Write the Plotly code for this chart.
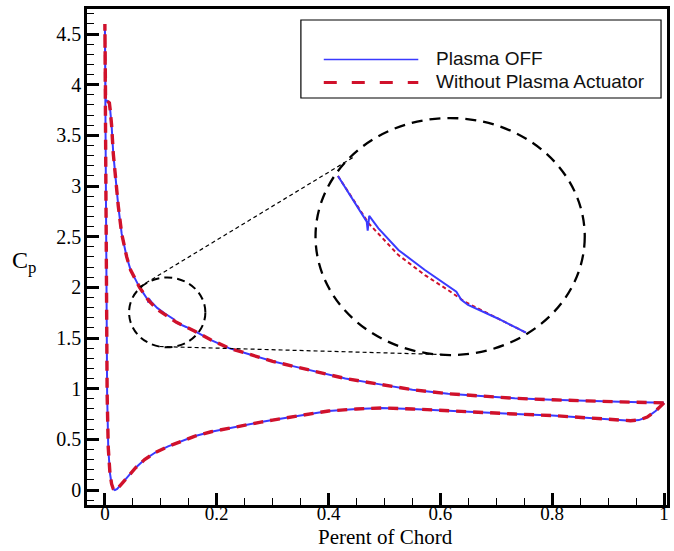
import plotly.graph_objects as go

# ---------------- data ----------------
# lower surface, trailing edge -> leading edge (shared by both cases)
lower_x = [1.0, 0.985, 0.97, 0.955, 0.94, 0.90, 0.851, 0.80, 0.733, 0.70, 0.614, 0.55,
           0.495, 0.45, 0.40, 0.377, 0.338, 0.30, 0.279, 0.25, 0.219, 0.19, 0.16, 0.135,
           0.113, 0.09, 0.071, 0.055, 0.041, 0.03, 0.022, 0.018, 0.015, 0.012, 0.009,
           0.006, 0.004, 0.003, 0.002, 0.001, 0.0]
lower_cp = [0.86, 0.78, 0.72, 0.69, 0.684, 0.70, 0.72, 0.735, 0.75, 0.76, 0.78, 0.80,
            0.81, 0.80, 0.78, 0.76, 0.73, 0.69, 0.67, 0.64, 0.61, 0.575, 0.53, 0.48,
            0.43, 0.37, 0.30, 0.22, 0.13, 0.06, 0.01, 0.0, 0.01, 0.06, 0.17,
            0.42, 0.95, 1.9, 3.0, 4.0, 4.6]

# upper surface, leading edge -> trailing edge, "Without Plasma Actuator"
base_upper_x = [0.0012, 0.004, 0.008, 0.0095, 0.012, 0.015, 0.019, 0.024, 0.030, 0.039,
                0.046, 0.054, 0.062, 0.068, 0.073, 0.078, 0.0935, 0.1073, 0.1194, 0.1281,
                0.1453, 0.160, 0.19, 0.222, 0.258, 0.30, 0.338, 0.377, 0.43, 0.495, 0.55,
                0.614, 0.68, 0.733, 0.80, 0.851, 0.92, 1.0]
base_upper_cp = [3.85, 3.84, 3.82, 3.75, 3.60, 3.32, 3.06, 2.80, 2.53, 2.30,
                 2.17, 2.08, 2.00, 1.952, 1.911, 1.870, 1.783, 1.728, 1.687, 1.655,
                 1.609, 1.570, 1.48, 1.40, 1.34, 1.27, 1.22, 1.17, 1.10, 1.04, 0.99,
                 0.95, 0.925, 0.905, 0.89, 0.88, 0.87, 0.86]

# upper surface, "Plasma OFF"
off_upper_x = [0.0012, 0.004, 0.008, 0.0095, 0.012, 0.015, 0.019, 0.024, 0.030, 0.039,
               0.046, 0.054, 0.062, 0.0676, 0.0728, 0.0770, 0.0775, 0.0783, 0.0831, 0.0935,
               0.1073, 0.1211, 0.1237, 0.1263, 0.1298, 0.1453, 0.160, 0.19, 0.222, 0.258,
               0.30, 0.338, 0.377, 0.43, 0.495, 0.55, 0.614, 0.68, 0.733, 0.80, 0.851,
               0.92, 1.0]
off_upper_cp = [3.85, 3.84, 3.82, 3.75, 3.60, 3.32, 3.06, 2.80, 2.53, 2.30,
                2.17, 2.08, 2.00, 1.9525, 1.911, 1.8746, 1.850, 1.8905, 1.8564, 1.797,
                1.742, 1.692, 1.6825, 1.660, 1.646, 1.609, 1.570, 1.48, 1.40, 1.34,
                1.27, 1.22, 1.17, 1.10, 1.04, 0.99, 0.95, 0.925, 0.905, 0.89, 0.88,
                0.87, 0.86]

series_names = ["Plasma OFF", "Without Plasma Actuator"]
zoom_window = (0.062, 0.160)   # chord interval magnified in the inset

BLUE = "#3a3aff"
RED = "#d0112b"
SERIF = "Liberation Serif"
SANS = "Liberation Sans"

off_x = lower_x + off_upper_x
off_cp = lower_cp + off_upper_cp
base_x = lower_x + base_upper_x
base_cp = lower_cp + base_upper_cp


def window(xs, ys):
    pts = [(a, b) for a, b in zip(xs, ys) if zoom_window[0] <= a <= zoom_window[1]]
    return [p[0] for p in pts], [p[1] for p in pts]


fig = go.Figure()
fig.add_trace(go.Scatter(x=off_x, y=off_cp, mode="lines", name=series_names[0],
                         line=dict(color=BLUE, width=2), showlegend=False))
fig.add_trace(go.Scatter(x=base_x, y=base_cp, mode="lines", name=series_names[1],
                         line=dict(color=RED, width=3.4, dash="10px,7px"), showlegend=False))

# inset (magnified) curves on overlay axes
bx, by = window(base_upper_x, base_upper_cp)
ox, oy = window(off_upper_x, off_upper_cp)
fig.add_trace(go.Scatter(x=bx, y=by, mode="lines", xaxis="x2", yaxis="y2", showlegend=False,
                         line=dict(color=RED, width=2, dash="4px,3px")))
fig.add_trace(go.Scatter(x=ox, y=oy, mode="lines", xaxis="x2", yaxis="y2", showlegend=False,
                         line=dict(color=BLUE, width=2)))

axis_common = dict(showline=True, linewidth=2.5, linecolor="black", mirror=True,
                   showgrid=False, zeroline=False, ticks="inside", tickwidth=2.5,
                   ticklen=12, tickcolor="black")

fig.update_layout(
    width=674, height=551,
    margin=dict(l=87, r=4, t=9, b=46),
    paper_bgcolor="white", plot_bgcolor="white",
    font=dict(family=SERIF, size=20, color="black"),
    xaxis=dict(range=[-0.032, 1.0053], dtick=0.2, tick0=0, ticklabelstandoff=-11,
               tickfont=dict(family=SERIF, size=19, color="black"),
               minor=dict(dtick=0.05, ticks="inside", ticklen=7, tickwidth=1.3, tickcolor="black"),
               **axis_common),
    yaxis=dict(range=[-0.148, 4.747], dtick=0.5, tick0=0, ticklabelstandoff=-1,
               tickfont=dict(family=SERIF, size=20, color="black"),
               minor=dict(dtick=0.1, ticks="inside", ticklen=7, tickwidth=1.3, tickcolor="black"),
               **axis_common),
    xaxis2=dict(overlaying="x", anchor="y2", range=[-0.0688, 0.2335], visible=False),
    yaxis2=dict(overlaying="y", anchor="x2", range=[1.0971, 2.4583], visible=False),
    showlegend=False,
)

# zoom circles and connecting lines
fig.add_shape(type="circle", xref="x", yref="y", x0=0.0432, x1=0.1797, y0=1.408, y1=2.097,
              line=dict(color="black", width=2, dash="8px,5px"))
fig.add_shape(type="circle", xref="x", yref="y", x0=0.3767, x1=0.8582, y0=1.332, y1=3.671,
              line=dict(color="black", width=2.3, dash="11px,7px"))
fig.add_shape(type="line", xref="x", yref="y", x0=0.0623, y0=2.006, x1=0.4448, y1=3.286,
              line=dict(color="black", width=1.2, dash="4px,3px"))
fig.add_shape(type="line", xref="x", yref="y", x0=0.0979, y0=1.416, x1=0.605, y1=1.337,
              line=dict(color="black", width=1.2, dash="4px,3px"))

# legend box drawn in paper space
PW, PH, L, T = 583.0, 496.0, 87.0, 9.0


def px(xp):
    return (xp - L) / PW


def py(yp):
    return (T + PH - yp) / PH


fig.add_shape(type="rect", xref="paper", yref="paper", x0=px(302), x1=px(664), y0=py(98), y1=py(20),
              line=dict(color="black", width=1.2), fillcolor="white", layer="above")
fig.add_shape(type="line", xref="paper", yref="paper", x0=px(325), x1=px(420), y0=py(59.5), y1=py(59.5),
              line=dict(color=BLUE, width=1.6), layer="above")
fig.add_shape(type="line", xref="paper", yref="paper", x0=px(325), x1=px(420), y0=py(82.5), y1=py(82.5),
              line=dict(color=RED, width=3, dash="13px,15px"), layer="above")
for name, yy in zip(series_names, [58.5, 81.5]):
    fig.add_annotation(xref="paper", yref="paper", x=px(436), y=py(yy), text=name, showarrow=False,
                       xanchor="left", yanchor="middle",
                       font=dict(family=SANS, size=19, color="#111111"))

# axis titles
fig.add_annotation(xref="paper", yref="paper", x=px(24), y=py(262), text="C<sub>p</sub>",
                   showarrow=False, xanchor="center", yanchor="middle",
                   font=dict(family=SERIF, size=24, color="black"))
fig.add_annotation(xref="paper", yref="paper", x=px(387), y=py(551), text="Perent of Chord",
                   showarrow=False, xanchor="center", yanchor="bottom",
                   font=dict(family=SERIF, size=21, color="black"))

fig.write_html("out.html")
